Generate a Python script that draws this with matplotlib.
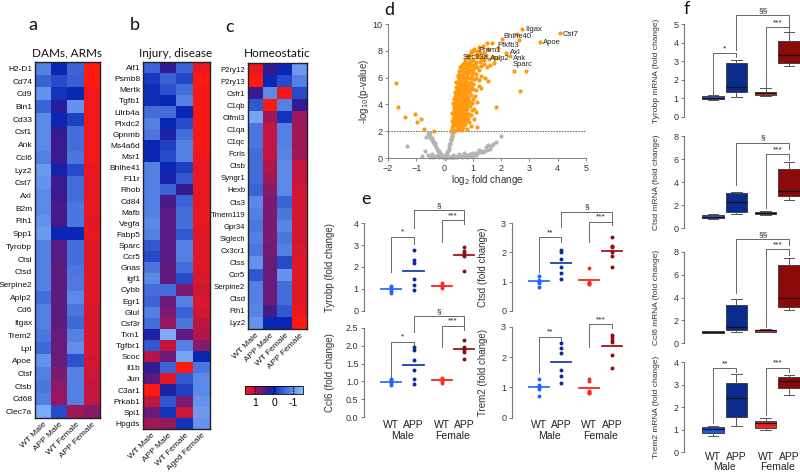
import numpy as np
import matplotlib
matplotlib.use('Agg')
import matplotlib.pyplot as plt
from matplotlib.colors import LinearSegmentedColormap
from matplotlib.transforms import blended_transform_factory

plt.rcParams['font.family'] = ['Liberation Sans', 'DejaVu Sans']
HEAD = ['Lato', 'DejaVu Sans']

# ---------------- Heatmap data ----------------
heat_cols_a = ["WT Male", "APP Male", "WT Female", "APP Female"]
heat_cols_b = ["WT Male", "APP Male", "WT Female", "Aged Female"]
heat_cols_c = ["WT Male", "APP Male", "WT Female", "APP Female"]

a_genes = ["H2-D1", "Cd74", "Cd9", "Bin1", "Cd33", "Csf1", "Ank", "Ccl6", "Lyz2", "Cst7",
           "Axl", "B2m", "Fth1", "Spp1", "Tyrobp", "Ctsl", "Ctsd", "Serpine2", "Aplp2", "Cd6",
           "Itgax", "Trem2", "Lpl", "Apoe", "Ctsf", "Ctsb", "Cd68", "Clec7a"]
a_vals = [
    [-0.8, 0.0, -0.5, 1.5], [-0.5, -0.3, -0.45, 1.5], [-1.0, -0.1, 0.0, 1.4],
    [-0.5, 0.2, -1.0, 1.4], [-0.9, 0.0, -0.2, 1.4], [-0.9, 0.3, -0.6, 1.4],
    [-0.9, 0.35, -0.6, 1.4], [-0.8, 0.35, -0.7, 1.4], [-1.1, 0.1, -0.3, 1.35],
    [-1.0, 0.35, -0.6, 1.35], [-0.9, 0.35, -0.6, 1.35], [-0.9, 0.4, -0.7, 1.35],
    [-1.0, 0.4, -0.7, 1.3], [-1.1, 0.0, 0.0, 1.35], [-0.8, 0.5, -0.6, 1.3],
    [-0.8, 0.5, -0.6, 1.3], [-0.8, 0.55, -0.7, 1.3], [-0.8, 0.55, -0.75, 1.3],
    [-0.6, 0.55, -0.9, 1.3], [-0.8, 0.55, -0.7, 1.25], [-0.8, 0.55, -0.55, 1.25],
    [-0.7, 0.6, -0.8, 1.25], [-0.55, 0.6, -0.95, 1.25], [-1.0, 0.6, -0.35, 1.2],
    [-0.8, 0.7, -0.8, 1.15], [-0.7, 0.8, -0.8, 1.1], [-0.8, 0.85, -0.8, 1.1],
    [-1.3, -0.3, 0.9, 0.75]]

b_genes = ["Aif1", "Psmb8", "Mertk", "Tgfb1", "Lilrb4a", "Plxdc2", "Gpnmb", "Ms4a6d", "Msr1",
           "Bhlhe41", "F11r", "Rhob", "Cd84", "Mafb", "Vegfa", "Fabp5", "Sparc", "Ccr5", "Gnas",
           "Igf1", "Cybb", "Egr1", "Glul", "Csf3r", "Txn1", "Tgfbr1", "Scoc", "Il1b", "Jun",
           "C3ar1", "Prkab1", "Spi1", "Hpgds"]
b_vals = [
    [-0.5, 0.3, -0.5, 1.35], [-0.15, -0.5, -0.25, 1.5], [-0.05, -0.35, -0.6, 1.45],
    [-0.05, 0.0, -0.8, 1.45], [-0.6, -0.6, 0.0, 1.45], [-0.8, 0.0, -0.3, 1.45],
    [-0.7, 0.15, -0.6, 1.45], [0.0, -0.2, -0.8, 1.45], [0.0, -0.3, -0.8, 1.4],
    [-0.8, 0.0, -0.2, 1.35], [-0.8, 0.1, -0.4, 1.35], [-0.8, -0.5, 0.3, 1.35],
    [-0.8, 0.4, -0.5, 1.35], [-0.8, 0.5, -0.6, 1.35], [-0.9, 0.5, -0.6, 1.35],
    [-0.8, 0.5, -0.4, 1.3], [-0.4, 0.5, -0.8, 1.3], [-0.3, 0.5, -0.8, 1.3],
    [-0.7, 0.55, -0.6, 1.3], [-0.9, 0.55, -0.3, 1.25], [-0.6, -0.6, 0.7, 1.2],
    [-0.5, 0.6, -0.8, 1.25], [-0.8, 0.7, -0.5, 1.2], [-0.6, 0.85, -0.7, 1.05],
    [0.15, -1.3, 0.55, 1.0], [-0.4, 1.1, -0.8, 0.75], [1.0, 0.6, -1.2, 0.0],
    [0.3, -0.5, 1.5, -0.7], [0.5, 1.3, -0.4, -0.9], [1.5, 0.15, -0.2, -0.9],
    [1.1, -0.4, 0.7, -1.0], [0.6, -0.1, 1.15, -1.1], [0.9, 0.85, -0.1, -1.0]]

c_genes = ["P2ry12", "P2ry13", "Csfr1", "C1qb", "Olfml3", "C1qa", "C1qc", "Fcrls", "Ctsb",
           "Syngr1", "Hexb", "Cts3", "Tmem119", "Gpr34", "Siglech", "Cx3cr1", "Ctss", "Ccr5",
           "Serpine2", "Ctsd", "Fth1", "Lyz2"]
c_vals = [
    [1.35, 0.3, 0.0, -1.1], [1.5, 0.0, -0.3, -0.8], [0.35, -0.9, 1.4, -0.3],
    [-0.4, 1.5, -0.8, 0.3], [-1.2, 0.9, -0.1, 0.9], [-0.7, 1.1, -0.8, 0.9],
    [-0.7, 1.1, -0.8, 0.9], [-0.6, 1.1, -0.85, 0.9], [-0.6, 1.0, -0.9, 1.1],
    [-0.6, 0.9, -0.9, 1.1], [-0.5, 0.75, -0.9, 1.2], [-0.9, 0.7, -0.5, 1.2],
    [-0.8, 0.7, -0.7, 1.2], [-0.7, 0.7, -0.85, 1.2], [-0.8, 0.7, -0.7, 1.2],
    [-0.7, 0.65, -0.8, 1.25], [-1.0, 0.6, -0.3, 1.3], [-0.4, 0.6, -1.0, 1.3],
    [-0.8, 0.6, -0.6, 1.3], [-0.8, 0.6, -0.6, 1.3], [-0.85, 0.4, -0.4, 1.35],
    [-1.0, 0.0, 0.0, 1.5]]

cbar_ticks = [1, 0, -1]

# ---------------- Volcano data ----------------
vol_orange = [
    (0.22, 2.05), (0.28, 2.3), (0.33, 2.12), (0.38, 2.45), (0.42, 2.08), (0.47, 2.35), (0.51, 2.18),
    (0.56, 2.42), (0.61, 2.1), (0.66, 2.28), (0.72, 2.5), (0.35, 2.6), (0.44, 2.62), (0.58, 2.65),
    (0.8, 2.2), (0.92, 2.4), (1.15, 2.3),
    (0.26, 2.75), (0.31, 2.95), (0.36, 2.82), (0.40, 3.1), (0.45, 2.9), (0.49, 3.05), (0.53, 2.78),
    (0.57, 3.15), (0.62, 2.88), (0.67, 3.02), (0.71, 2.74), (0.76, 3.1), (0.84, 2.95), (0.95, 3.18),
    (0.39, 2.7), (0.5, 2.98), (0.64, 3.2), (0.88, 2.7), (1.05, 2.9),
    (0.28, 3.35), (0.32, 3.6), (0.37, 3.45), (0.41, 3.85), (0.44, 3.3), (0.48, 3.7), (0.52, 3.5),
    (0.55, 3.92), (0.59, 3.38), (0.63, 3.75), (0.67, 3.55), (0.71, 3.9), (0.75, 3.42), (0.8, 3.68),
    (0.86, 3.3), (0.9, 3.85), (0.98, 3.55), (1.04, 3.66), (0.46, 3.55), (0.6, 3.62), (0.35, 3.95),
    (0.73, 3.25), (1.12, 3.4), (1.82, 3.83),
    (0.31, 4.1), (0.35, 4.4), (0.39, 4.22), (0.43, 4.65), (0.47, 4.05), (0.5, 4.5), (0.54, 4.28),
    (0.58, 4.72), (0.62, 4.15), (0.66, 4.55), (0.7, 4.35), (0.74, 4.78), (0.78, 4.1), (0.83, 4.48),
    (0.88, 4.25), (0.93, 4.7), (1.0, 4.4), (1.08, 4.6), (0.45, 4.35), (0.56, 4.45), (0.68, 4.0),
    (0.8, 4.65), (1.15, 4.2), (0.4, 4.8),
    (0.36, 4.95), (0.4, 5.3), (0.44, 5.05), (0.48, 5.5), (0.52, 4.9), (0.55, 5.25), (0.59, 5.45),
    (0.63, 5.0), (0.67, 5.35), (0.71, 5.55), (0.75, 4.95), (0.79, 5.2), (0.84, 5.48), (0.89, 5.05),
    (0.95, 5.3), (1.02, 5.5), (1.1, 5.1), (1.2, 5.4), (0.5, 5.15), (0.65, 5.2), (0.77, 5.4),
    (0.6, 4.85), (2.67, 5.0), (1.3, 5.25),
    (0.42, 5.7), (0.46, 6.05), (0.5, 5.85), (0.54, 6.3), (0.58, 5.65), (0.62, 6.1), (0.66, 5.9),
    (0.7, 6.35), (0.74, 5.75), (0.78, 6.15), (0.83, 5.95), (0.88, 6.4), (0.93, 5.7), (0.98, 6.2),
    (1.05, 5.9), (1.12, 6.3), (1.2, 5.8), (1.3, 6.1), (0.6, 6.0), (0.72, 6.05), (0.85, 5.62),
    (1.42, 6.0), (1.55, 5.75),
    (0.5, 6.5), (0.55, 6.8), (0.6, 6.6), (0.65, 7.0), (0.7, 6.45), (0.75, 6.9), (0.8, 6.7),
    (0.86, 7.1), (0.92, 6.55), (0.98, 6.95), (1.05, 6.7), (1.12, 7.15), (1.2, 6.6), (1.28, 6.9),
    (1.38, 7.05), (1.5, 6.8), (1.62, 6.95), (0.68, 6.75), (0.9, 6.85), (1.75, 7.1), (2.45, 6.5),
    (2.88, 6.5),
    (0.72, 7.3), (0.8, 7.6), (0.88, 7.4), (0.95, 7.8), (1.02, 7.35), (1.1, 7.7), (1.18, 7.5),
    (1.26, 7.9), (1.35, 7.45), (1.45, 7.65), (1.58, 7.4), (1.7, 7.55), (1.85, 7.45), (2.17, 7.8),
    (2.3, 7.6), (1.0, 7.95), (1.3, 7.3),
    (1.04, 8.1), (1.2, 8.25), (1.49, 8.56), (1.67, 8.56), (2.02, 8.86), (2.64, 8.8), (2.56, 9.25),
    (2.74, 9.6), (4.08, 9.3), (3.39, 8.63), (1.35, 8.35), (1.9, 8.2),
    (0.3, 2.5), (0.34, 3.2), (0.38, 3.0), (0.43, 2.8), (0.47, 3.25), (0.52, 3.3), (0.56, 2.55),
    (0.6, 3.0), (0.65, 2.6), (0.69, 3.3), (0.78, 2.85),
    (0.33, 3.8), (0.38, 4.0), (0.42, 3.6), (0.5, 3.85), (0.57, 3.6), (0.61, 3.95), (0.65, 3.35),
    (0.69, 4.1), (0.77, 3.8), (0.84, 4.0),
    (0.37, 4.6), (0.41, 4.45), (0.46, 4.85), (0.52, 4.65), (0.57, 4.1), (0.64, 4.8), (0.72, 4.55),
    (0.76, 4.3), (0.86, 4.9), (0.96, 4.1),
    (0.45, 5.3), (0.5, 5.6), (0.57, 5.1), (0.61, 5.55), (0.69, 5.1), (0.73, 5.3), (0.82, 5.1),
    (0.9, 5.6), (0.99, 5.15),
    (0.48, 6.2), (0.56, 5.95), (0.64, 6.4), (0.68, 5.6), (0.76, 6.45), (0.81, 6.25), (0.95, 6.0),
    (1.02, 6.45), (1.1, 6.0),
    (0.58, 6.9), (0.63, 6.7), (0.72, 7.15), (0.78, 7.0), (0.84, 6.6), (0.95, 7.25), (1.08, 7.0),
    (1.15, 6.8), (1.25, 7.2), (1.4, 7.3),
    (0.85, 7.7), (0.92, 8.0), (1.15, 7.95), (1.4, 7.85), (1.55, 8.1), (1.22, 7.6),
    (-1.72, 5.57), (-1.64, 3.78), (-1.41, 3.08), (-1.03, 3.28), (-0.98, 2.72), (-0.82, 2.88),
    (-0.74, 2.2), (-0.36, 2.04)]
vol_gray = [
    (-0.6, 1.9), (-0.55, 1.75), (-0.5, 1.6), (-0.47, 1.45), (-0.42, 1.3), (-0.38, 1.15), (-0.33, 1.0),
    (-0.3, 0.85), (-0.26, 0.7), (-0.22, 0.55), (-0.18, 0.42), (-0.14, 0.3), (-0.1, 0.2), (-0.06, 0.1),
    (-0.03, 0.05), (-0.45, 1.5), (-0.35, 1.1), (-0.2, 0.5), (-0.53, 1.85), (-0.4, 1.2),
    (0.03, 0.08), (0.06, 0.2), (0.09, 0.35), (0.12, 0.55), (0.15, 0.75), (0.17, 0.95), (0.2, 1.15),
    (0.22, 1.35), (0.25, 1.55), (0.28, 1.75), (0.3, 1.9), (0.1, 0.45), (0.18, 1.05), (0.24, 1.45),
    (0.14, 0.65), (0.27, 1.65), (0.32, 1.98),
    (0.0, 0.02), (0.05, 0.03), (0.1, 0.05), (0.15, 0.04), (0.2, 0.08), (0.25, 0.06), (0.3, 0.1),
    (0.35, 0.09), (0.4, 0.12), (0.45, 0.11), (0.5, 0.15), (0.55, 0.13), (0.6, 0.18), (0.65, 0.16),
    (0.7, 0.2), (0.75, 0.22), (0.8, 0.25), (0.85, 0.22), (0.9, 0.3), (0.95, 0.28), (1.0, 0.35),
    (1.05, 0.3), (1.1, 0.4), (1.15, 0.38), (1.2, 0.45), (1.25, 0.42), (1.3, 0.5), (1.35, 0.48),
    (1.4, 0.55), (1.5, 0.6), (1.55, 0.95), (1.6, 0.7), (1.7, 1.05), (1.83, 1.2), (2.0, 1.64),
    (1.45, 0.8), (0.5, 0.3), (0.7, 0.35), (0.9, 0.15), (1.1, 0.2), (0.3, 0.25), (0.6, 0.05),
    (0.8, 0.1), (1.0, 0.12), (1.2, 0.6), (1.65, 0.9),
    (-0.5, 0.1), (-0.4, 0.05), (-0.3, 0.15), (-0.2, 0.05), (-0.12, 0.12), (-0.45, 0.3), (-0.6, 0.2),
    (-0.7, 0.5), (-0.65, 1.6), (-1.33, 0.92), (-0.8, 0.15), (-0.25, 0.25)]
vol_labels = [("Itgax", 2.86, 9.6), ("Cst7", 4.18, 9.25), ("Bhlhe40", 2.08, 9.08), ("Apoe", 3.47, 8.6),
              ("Pfkfb3", 1.85, 8.36), ("Pram1", 1.18, 8.05), ("Axl", 2.3, 7.9), ("Sec23a", 0.65, 7.5),
              ("Aplp2", 1.62, 7.45), ("Ank", 2.42, 7.45), ("Sparc", 2.42, 6.98)]

# ---------------- Panel e data ----------------
group_pos = [1, 2, 3.25, 4.25]
e_tyrobp = [[1.15, 1.1, 1.0, 0.92, 0.83], [2.77, 2.3, 2.2, 1.46, 1.18, 0.97],
            [1.25, 1.18, 1.12, 1.06], [2.92, 2.75, 2.65, 2.57, 2.49, 1.83]]
e_ccl6 = [[1.08, 1.05, 1.0, 0.95, 0.9], [1.95, 1.88, 1.6, 1.32, 1.08, 0.92],
          [1.1, 1.07, 1.0, 0.95], [2.17, 1.97, 1.92, 1.87, 1.82, 1.62]]
e_ctsd = [[1.2, 1.05, 1.0, 0.95, 0.82], [2.1, 2.03, 1.76, 1.49, 1.3, 1.09],
          [1.45, 0.97, 0.95, 0.93, 0.9], [2.52, 2.23, 2.2, 2.03, 1.88, 1.51]]
e_trem2 = [[1.27, 1.08, 1.0, 0.93, 0.71], [2.45, 2.29, 2.14, 1.57, 1.37, 1.13],
           [1.27, 1.2, 0.88, 0.84, 0.8, 0.83], [2.73, 2.65, 2.56, 2.48, 2.07, 1.63]]
e_brk_tyrobp = [(1, 2, 3.38, 1.77, 3.03, "*"), (3.25, 4.25, 4.14, 3.15, 3.95, "***"), (2, 4.25, 4.6, 3.8, 4.14, "§")]
e_brk_ccl6 = [(1, 2, 2.11, 1.01, 1.97, "*"), (3.25, 4.25, 2.56, 1.97, 2.43, "***"), (2, 4.25, 2.83, 2.39, 2.56, "§")]
e_brk_ctsd = [(1, 2, 2.52, 1.34, 2.37, "**"), (3.25, 4.25, 3.06, 2.37, 2.94, "***"), (2, 4.25, 3.4, 2.89, 3.06, "§")]
e_brk_trem2 = [(1, 2, 2.67, 1.46, 2.54, "**"), (3.25, 4.25, 3.08, 2.34, 2.95, "***")]

# ---------------- Panel f data (whislo, q1, med, q3, whishi) ----------------
f_tyrobp = [(0.9, 0.94, 1.03, 1.12, 1.16), (1.08, 1.35, 1.62, 2.92, 3.07),
            (1.14, 1.17, 1.26, 1.35, 1.53), (2.74, 2.92, 3.34, 4.1, 4.57)]
f_ctsd = [(0.81, 0.87, 1.0, 1.16, 1.21), (1.21, 1.42, 2.25, 3.03, 3.12),
          (1.13, 1.21, 1.3, 1.45, 1.53), (2.46, 2.8, 3.27, 5.12, 5.72)]
f_ccl6 = [(0.87, 0.9, 1.02, 1.08, 1.1), (0.96, 1.16, 1.42, 3.31, 3.87),
          (0.96, 1.02, 1.13, 1.19, 1.28), (2.88, 3.2, 3.92, 6.83, 7.41)]
f_trem2 = [(0.74, 0.84, 1.04, 1.11, 1.19), (1.19, 1.59, 2.4, 3.07, 3.48),
           (0.99, 1.08, 1.29, 1.41, 1.51), (2.55, 2.84, 3.19, 3.33, 3.42)]
f_brk_tyrobp = [(1, 2, 3.43, 1.2, 3.25, "*"), (3.25, 4.25, 4.84, 1.6, 4.66, "***"), (2, 4.25, 5.5, 3.6, 4.84, "§§")]
f_brk_ctsd = [(3.25, 4.25, 6.4, 1.73, 5.9, "***"), (2, 4.25, 7.43, 3.76, 6.9, "§")]
f_brk_ccl6 = [(3.25, 4.25, 8.23, 1.45, 7.7, "***"), (2, 4.25, 9.07, 4.36, 8.58, "§§")]
f_brk_trem2 = [(1, 2, 3.73, 1.29, 3.58, "**"), (3.25, 4.25, 3.76, 1.66, 3.58, "***")]

pt_colors = ['#1f66ff', '#0b2a9e', '#ff2a1f', '#8e0f10']
line_colors = ['#2f6dff', '#1a3db0', '#ff2020', '#a21414']
box_colors = ['#1a58e6', '#0b2c8c', '#e8281e', '#8c0a0a']

# ---------------- Figure ----------------
W, H = 800, 473
fig = plt.figure(figsize=(8, 4.73), dpi=100)


def ax_px(x0, y0, x1, y1):
    return fig.add_axes([x0 / W, 1 - y1 / H, (x1 - x0) / W, (y1 - y0) / H])


def ftxt(x, y, s, **kw):
    fig.text(x / W, 1 - y / H, s, **kw)


cmap = LinearSegmentedColormap.from_list('hm', [
    (0.0, '#8fbcff'), (0.1667, '#6592ec'), (0.333, '#3c64d6'), (0.5, '#0a28b4'),
    (0.6167, '#3b1a8e'), (0.7333, '#7c1a72'), (0.85, '#bb1545'), (1.0, '#ff1a10')])


def heatmap(rect, genes, cols, vals, title, tx, fs):
    ax = ax_px(*rect)
    im = ax.imshow(np.array(vals), cmap=cmap, vmin=-1.5, vmax=1.5, aspect='auto',
                   interpolation='nearest')
    ax.set_yticks(range(len(genes)))
    ax.set_yticklabels(genes, fontsize=fs, color='#111')
    ax.set_xticks(range(len(cols)))
    ax.set_xticklabels(cols, rotation=45, ha='right', rotation_mode='anchor', fontsize=6, color='#111')
    ax.tick_params(length=0, pad=2)
    for s in ax.spines.values():
        s.set_linewidth(1.0)
        s.set_color('#222')
    ftxt(tx, 53, title, ha='center', va='center', fontsize=8.5, family=HEAD, color='#111')
    return im


im = heatmap((35, 62, 100, 418), a_genes, heat_cols_a, a_vals, "DAMs, ARMs", 67, 6)
heatmap((143, 62, 210, 429), b_genes, heat_cols_b, b_vals, "Injury, disease", 176, 6)
heatmap((248, 63, 307, 329), c_genes, heat_cols_c, c_vals, "Homeostatic", 277, 5.6)

cax = ax_px(245, 386, 303, 394)
cb = fig.colorbar(im, cax=cax, orientation='horizontal')
cax.invert_xaxis()
cb.set_ticks(cbar_ticks)
cb.set_ticklabels([str(t) for t in cbar_ticks])
cax.tick_params(length=0, labelsize=7.5, pad=3)
for t in cbar_ticks:
    cax.axvline(t, color='k', ls=(0, (1, 1)), lw=1.0)
cb.outline.set_linewidth(0.6)

for (x, y, s) in [(33, 25, 'a'), (135, 25, 'b'), (230, 27, 'c'), (389, 10, 'd'), (366, 199, 'e'), (687, 9, 'f')]:
    ftxt(x, y, s, ha='center', va='center', fontsize=13, family=HEAD, color='#111')

# ---------------- Volcano ----------------
axd = ax_px(388, 24, 586, 158)
gx, gy = zip(*vol_gray)
ox, oy = zip(*vol_orange)
axd.scatter(gx, gy, s=9, c='#b4b4b4', lw=0, zorder=2, clip_on=False)
axd.scatter(ox, oy, s=9, c='#ff9a0e', lw=0, zorder=3, clip_on=False)
axd.axhline(2, color='#555', ls=(0, (2, 1.3)), lw=0.6, zorder=1)
axd.set_xlim(-2, 5)
axd.set_ylim(0, 10)
axd.set_xticks(range(-2, 6))
axd.set_yticks([0, 2, 4, 6, 8, 10])
for s in ['top', 'right']:
    axd.spines[s].set_visible(False)
for s in ['left', 'bottom']:
    axd.spines[s].set_color('#888')
    axd.spines[s].set_linewidth(0.8)
axd.tick_params(labelsize=6.5, length=2.5, width=0.7, color='#888', labelcolor='#333', pad=1.5)
axd.set_xlabel(r'log$_2$ fold change', fontsize=7, color='#333')
axd.xaxis.set_label_coords(0.5, -0.115)
axd.set_ylabel(r'-log$_{10}$(p-value)', fontsize=7, color='#333')
axd.yaxis.set_label_coords(-0.085, 0.5)
for name, x, y in vol_labels:
    axd.text(x, y, name, fontsize=5.5, ha='left', va='center', color='#222', zorder=4)


# ---------------- helpers for e and f ----------------
def bracket(ax, x1, x2, top, lo1, lo2, label, dy):
    ax.plot([x1, x1, x2, x2], [lo1, top, top, lo2], color='#666', lw=0.7, clip_on=False)
    ax.text((x1 + x2) / 2, top + dy, label, ha='center', va='bottom', fontsize=6,
            color='#222', clip_on=False)


def style_axis(ax, ylim, yticks, yticklabels, ylabel, lx, fs):
    ax.set_ylim(*ylim)
    ax.set_yticks(yticks)
    ax.set_yticklabels(yticklabels)
    ax.set_xticks([])
    for s in ['top', 'right', 'bottom']:
        ax.spines[s].set_visible(False)
    ax.spines['left'].set_color('#777')
    ax.spines['left'].set_linewidth(0.8)
    ax.tick_params(axis='y', labelsize=6.5, length=2.5, width=0.7, color='#777', labelcolor='#333', pad=1.5)
    ax.set_ylabel(ylabel, fontsize=fs, color='#333')
    ax.yaxis.set_label_coords(lx, 0.5)
    ax.patch.set_alpha(0)


def group_labels(ax, y1, y2):
    tr = blended_transform_factory(ax.transData, fig.transFigure)
    for p, s in zip(group_pos, ['WT', 'APP', 'WT', 'APP']):
        ax.text(p, 1 - y1 / H, s, transform=tr, ha='center', va='center', fontsize=7.5, color='#222')
    ax.text((group_pos[0] + group_pos[1]) / 2, 1 - y2 / H, 'Male', transform=tr, ha='center',
            va='center', fontsize=7.5, color='#222')
    ax.text((group_pos[2] + group_pos[3]) / 2, 1 - y2 / H, 'Female', transform=tr, ha='center',
            va='center', fontsize=7.5, color='#222')


def scatter_panel(rect, vals, ylim, yticks, yticklabels, ylabel, brackets, lx, dy):
    ax = ax_px(*rect)
    ax.set_xlim(-0.2, 5.0)
    for i, (p, v) in enumerate(zip(group_pos, vals)):
        ax.scatter([p] * len(v), v, s=8, color=pt_colors[i], lw=0, zorder=3)
        m = np.mean(v)
        ax.plot([p - 0.45, p + 0.45], [m, m], color=line_colors[i], lw=1.3, zorder=2)
    for b in brackets:
        bracket(ax, *b, dy)
    style_axis(ax, ylim, yticks, yticklabels, ylabel, lx, 7)
    return ax


axe1 = scatter_panel((364, 223.3, 481, 310.7), e_tyrobp, (0, 4), [0, 1, 2, 3, 4],
                     ['0', '1', '2', '3', '4'], 'Tyrobp (fold change)', e_brk_tyrobp, -0.25, 0.05)
axe2 = scatter_panel((364, 327.7, 481, 417.3), e_ccl6, (0, 2.5), [0, 0.5, 1, 1.5, 2, 2.5],
                     ['0.0', '0.5', '1.0', '1.5', '2.0', '2.5'], 'Ccl6 (fold change)', e_brk_ccl6, -0.25, 0.03)
axe3 = scatter_panel((511.7, 223.3, 628.7, 310.7), e_ctsd, (0, 3), [0, 1, 2, 3],
                     ['0', '1', '2', '3'], 'Ctsd (fold change)', e_brk_ctsd, -0.2, 0.04)
axe4 = scatter_panel((511.7, 326.7, 628.7, 417.7), e_trem2, (0, 3), [0, 1, 2, 3],
                     ['0', '1', '2', '3'], 'Trem2 (fold change)', e_brk_trem2, -0.2, 0.04)
group_labels(axe2, 425, 436)
group_labels(axe4, 425, 436)


def box_panel(rect, stats, ylim, yticks, ylabel, brackets, dy):
    ax = ax_px(*rect)
    ax.set_xlim(-0.24, 4.72)
    st = [dict(whislo=s[0], q1=s[1], med=s[2], q3=s[3], whishi=s[4], fliers=[]) for s in stats]
    bp = ax.bxp(st, positions=group_pos, widths=0.9, patch_artist=True, showfliers=False,
                boxprops=dict(linewidth=0.6, edgecolor='#333'),
                medianprops=dict(color='#111', linewidth=0.9),
                whiskerprops=dict(color='#555', linewidth=0.7),
                capprops=dict(color='#555', linewidth=0.7), capwidths=0.45)
    for patch, c in zip(bp['boxes'], box_colors):
        patch.set_facecolor(c)
    for b in brackets:
        bracket(ax, *b, dy)
    style_axis(ax, ylim, yticks, [str(t) for t in yticks], ylabel, -0.21, 6)
    return ax


axf1 = box_panel((684, 24.3, 800, 116.7), f_tyrobp, (0, 5), [0, 1, 2, 3, 4, 5],
                 'Tyrobp mRNA (fold change)', f_brk_tyrobp, 0.05)
axf2 = box_panel((684, 136, 800, 228.3), f_ctsd, (0, 8), [0, 2, 4, 6, 8],
                 'Ctsd mRNA (fold change)', f_brk_ctsd, 0.08)
axf3 = box_panel((684, 251.7, 800, 343.3), f_ccl6, (0, 8), [0, 2, 4, 6, 8],
                 'Ccl6 mRNA (fold change)', f_brk_ccl6, 0.08)
axf4 = box_panel((684, 362.3, 800, 452.3), f_trem2, (0, 4), [0, 1, 2, 3, 4],
                 'Trem2 mRNA (fold change)', f_brk_trem2, 0.04)
group_labels(axf4, 456.7, 467.3)

fig.savefig('out.png', dpi=100)
